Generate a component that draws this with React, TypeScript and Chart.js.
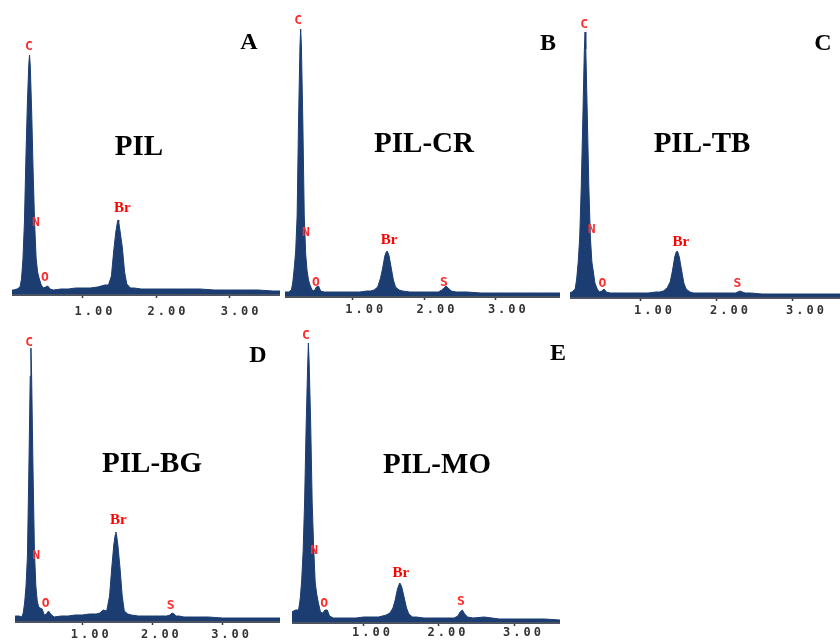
import React, { useEffect, useRef } from "react";
import { Chart, registerables } from "chart.js";

Chart.register(...registerables);

// Energy axis (keV), shared by all spectra
const energies = [
  0.0, 0.05, 0.1, 0.14, 0.16, 0.18, 0.2, 0.22, 0.24, 0.26, 0.27, 0.28, 0.3, 0.32, 0.34, 0.36,
  0.38, 0.4, 0.43, 0.46, 0.49, 0.52, 0.55, 0.6, 0.7, 0.8, 0.9, 1.0, 1.1, 1.2, 1.25, 1.3,
  1.35, 1.39, 1.42, 1.45, 1.47, 1.48, 1.49, 1.51, 1.54, 1.57, 1.6, 1.65, 1.7, 1.8, 1.9, 2.0,
  2.1, 2.2, 2.25, 2.28, 2.31, 2.34, 2.38, 2.45, 2.6, 2.8, 3.0, 3.2, 3.4, 3.6, 3.8, 4.0,
];

// Counts (arbitrary units)
const countsPIL = [
  4, 4, 5, 7, 15, 35, 72, 135, 190, 230, 239, 228, 180, 120, 70, 36,
  22, 16, 9, 6, 7, 8, 5, 4, 5, 5, 6, 6, 6, 7, 8, 9,
  9, 18, 42, 62, 71, 74, 72, 62, 46, 22, 10, 6, 6, 5, 5, 5,
  5, 5, 5, 5, 5, 5, 5, 5, 5, 4, 4, 4, 4, 3, 3, 3,
];
const countsPILCR = [
  3, 4, 4, 6, 14, 28, 45, 80, 175, 250, 267, 250, 175, 80, 42, 25,
  16, 11, 6, 5, 9, 10, 5, 4, 4, 4, 4, 4, 4, 5, 5, 6,
  9, 18, 28, 40, 44, 45, 44, 40, 28, 16, 9, 6, 5, 4, 4, 4,
  4, 4, 6, 8, 10, 8, 5, 4, 4, 3, 3, 3, 3, 3, 3, 3,
];
const countsPILTB = [
  4, 4, 5, 8, 18, 35, 60, 110, 175, 245, 265, 248, 180, 110, 60, 35,
  25, 14, 8, 5, 6, 8, 5, 4, 4, 4, 4, 4, 4, 5, 5, 6,
  9, 15, 26, 40, 45, 46, 45, 40, 27, 14, 8, 5, 4, 4, 4, 4,
  4, 4, 4, 5, 6, 5, 4, 4, 3, 3, 3, 3, 3, 3, 3, 3,
];
const countsPILBG = [
  4, 5, 5, 4, 8, 18, 35, 65, 150, 245, 273, 245, 150, 70, 35, 20,
  14, 13, 12, 6, 7, 10, 7, 4, 5, 5, 6, 6, 7, 7, 8, 11,
  10, 25, 52, 76, 86, 89, 86, 75, 52, 25, 10, 7, 6, 5, 5, 5,
  5, 5, 6, 8, 7, 5, 5, 4, 4, 4, 3, 3, 3, 3, 3, 3,
];
const countsPILMO = [
  8, 10, 12, 12, 22, 40, 70, 120, 195, 255, 279, 260, 200, 120, 75, 40,
  28, 20, 10, 9, 12, 12, 6, 4, 4, 4, 4, 5, 5, 5, 6, 7,
  9, 14, 22, 33, 37, 39, 38, 34, 24, 14, 8, 5, 5, 4, 4, 4,
  4, 4, 6, 10, 12, 8, 5, 4, 5, 3, 3, 3, 3, 2, 2, 2,
];

const tickValues = [1, 2, 3];
const sampleNames = ["PIL", "PIL-CR", "PIL-TB", "PIL-BG", "PIL-MO"];
const panelLetters = ["A", "B", "C", "D", "E"];

// Element labels: [element, energy keV, counts]
const peakLabelsPIL: [string, number, number][] = [
  ["C", 0.26, 247], ["N", 0.356, 71], ["O", 0.48, 16], ["Br", 1.54, 86],
];
const peakLabelsPILCR: [string, number, number][] = [
  ["C", 0.233, 275], ["N", 0.342, 63], ["O", 0.485, 13], ["Br", 1.509, 56], ["S", 2.28, 13],
];
const peakLabelsPILTB: [string, number, number][] = [
  ["C", 0.257, 272], ["N", 0.358, 67], ["O", 0.5, 13], ["Br", 1.53, 55], ["S", 2.276, 13],
];
const peakLabelsPILBG: [string, number, number][] = [
  ["C", 0.245, 278], ["N", 0.345, 65], ["O", 0.48, 17], ["Br", 1.514, 101], ["S", 2.262, 15],
];
const peakLabelsPILMO: [string, number, number][] = [
  ["C", 0.236, 286], ["N", 0.347, 71], ["O", 0.48, 18], ["Br", 1.494, 49], ["S", 2.29, 20],
];

const FILL = "#1b3d72";
const AXIS = "#4c5361";

type Panel = {
  counts: number[];
  peaks: [string, number, number][];
  name: string;
  letter: string;
  left: number;
  top: number;
  width: number;
  plotH: number;
  xMin: number;
  xMax: number;
  tickPad: number;
  labelOffset: number;
  letterPos: [number, number];
  namePos: [number, number];
};

const AXIS_H = 24;

const panels: Panel[] = [
  { counts: countsPIL, peaks: peakLabelsPIL, name: sampleNames[0], letter: panelLetters[0],
    left: 12, top: 10, width: 268, plotH: 284, xMin: 0.03, xMax: 3.696, tickPad: 7, labelOffset: 12,
    letterPos: [249, 41], namePos: [139, 145] },
  { counts: countsPILCR, peaks: peakLabelsPILCR, name: sampleNames[1], letter: panelLetters[1],
    left: 285, top: 10, width: 275, plotH: 286, xMin: 0.05, xMax: 3.907, tickPad: 3, labelOffset: 13,
    letterPos: [548, 42], namePos: [424, 142] },
  { counts: countsPILTB, peaks: peakLabelsPILTB, name: sampleNames[2], letter: panelLetters[2],
    left: 570, top: 10, width: 270, plotH: 287, xMin: 0.072, xMax: 3.625, tickPad: 3, labelOffset: 14,
    letterPos: [823, 42], namePos: [702, 142] },
  { counts: countsPILBG, peaks: peakLabelsPILBG, name: sampleNames[3], letter: panelLetters[3],
    left: 15, top: 326, width: 265, plotH: 295, xMin: 0.043, xMax: 3.818, tickPad: 3, labelOffset: 9,
    letterPos: [258, 354], namePos: [152, 462] },
  { counts: countsPILMO, peaks: peakLabelsPILMO, name: sampleNames[4], letter: panelLetters[4],
    left: 292, top: 326, width: 268, plotH: 296, xMin: 0.053, xMax: 3.603, tickPad: 0, labelOffset: 9,
    letterPos: [558, 352], namePos: [437, 463] },
];

function SpectrumPanel({ p }: { p: Panel }) {
  const ref = useRef<HTMLCanvasElement>(null);
  useEffect(() => {
    const canvas = ref.current;
    if (!canvas) return;
    const peakPlugin = {
      id: "peakLabels",
      beforeDraw(c: any) {
        c.ctx.letterSpacing = "3px";
      },
      afterDraw(c: any) {
        const ctx = c.ctx;
        ctx.save();
        ctx.letterSpacing = "0px";
        ctx.textAlign = "center";
        ctx.textBaseline = "middle";
        for (const [el, e, h] of p.peaks) {
          const x = c.scales.x.getPixelForValue(e);
          const y = c.scales.y.getPixelForValue(h);
          if (el === "Br") {
            ctx.font = 'bold 15px "Liberation Serif"';
            ctx.fillStyle = "#ff0000";
          } else {
            ctx.font = 'bold 13px "DejaVu Sans Mono"';
            ctx.fillStyle = "#ff2b2b";
          }
          ctx.fillText(el, x, y);
        }
        ctx.restore();
      },
    };
    const chart = new Chart(canvas, {
      type: "line",
      data: {
        datasets: [
          {
            data: energies.map((e, i) => ({ x: e, y: p.counts[i] })),
            fill: "origin",
            backgroundColor: FILL,
            borderColor: FILL,
            borderWidth: 1,
            pointRadius: 0,
            tension: 0,
          },
        ],
      },
      options: {
        responsive: false,
        animation: false,
        events: [],
        layout: { padding: 0 },
        plugins: {
          legend: { display: false },
          tooltip: { enabled: false },
          title: { display: false },
        },
        scales: {
          x: {
            type: "linear",
            min: p.xMin,
            max: p.xMax,
            afterBuildTicks: (s: any) => {
              s.ticks = tickValues.map((v) => ({ value: v }));
            },
            afterFit: (s: any) => {
              s.height = AXIS_H;
            },
            grid: {
              display: true,
              drawOnChartArea: false,
              drawTicks: true,
              tickLength: 4,
              tickColor: "#3a3a3a",
              tickWidth: 1.5,
            },
            border: { display: true, color: AXIS, width: 3 },
            ticks: {
              padding: p.tickPad,
              labelOffset: p.labelOffset,
              color: "#333333",
              font: { family: '"DejaVu Sans Mono"', size: 12, weight: "bold" },
              maxRotation: 0,
              autoSkip: false,
              callback: (v: any) => Number(v).toFixed(2),
            },
          },
          y: { display: false, min: 0, max: p.plotH },
        },
      } as any,
      plugins: [peakPlugin],
    });
    return () => chart.destroy();
  }, [p]);
  return (
    <canvas
      ref={ref}
      width={p.width}
      height={p.plotH + AXIS_H}
      style={{ position: "absolute", left: p.left, top: p.top }}
    />
  );
}

export default function App() {
  return (
    <div
      style={{
        position: "absolute",
        left: 0,
        top: 0,
        width: 840,
        height: 640,
        overflow: "hidden",
        background: "#ffffff",
      }}
    >
      {panels.map((p, i) => (
        <SpectrumPanel key={i} p={p} />
      ))}
      {panels.map((p, i) => (
        <React.Fragment key={"t" + i}>
          <div
            style={{
              position: "absolute",
              left: p.letterPos[0],
              top: p.letterPos[1],
              transform: "translate(-50%, -50%)",
              font: 'bold 24px "Liberation Serif"',
              lineHeight: 1,
              whiteSpace: "nowrap",
              color: "#000",
            }}
          >
            {p.letter}
          </div>
          <div
            style={{
              position: "absolute",
              left: p.namePos[0],
              top: p.namePos[1],
              transform: "translate(-50%, -50%)",
              font: 'bold 29px "Liberation Serif"',
              lineHeight: 1,
              whiteSpace: "nowrap",
              color: "#000",
            }}
          >
            {p.name}
          </div>
        </React.Fragment>
      ))}
    </div>
  );
}
